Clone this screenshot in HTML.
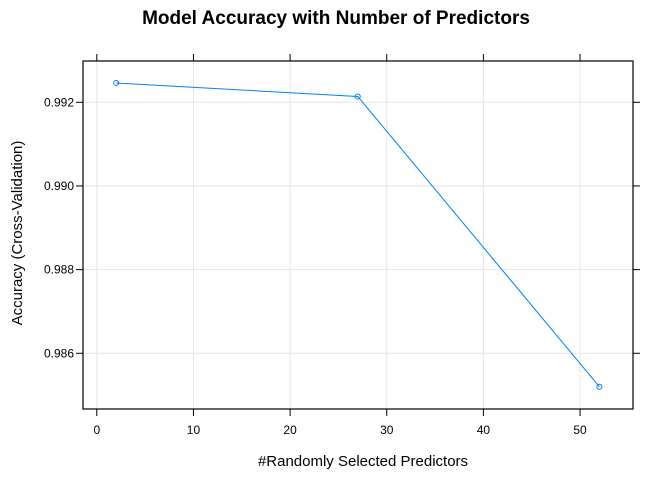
<!DOCTYPE html>
<html><head><meta charset="utf-8"><style>
body{margin:0;background:#fff;}
svg text{font-family:"Liberation Sans",Arial,sans-serif;}
</style></head><body>
<svg id="chart" width="672" height="480" viewBox="0 0 672 480" xmlns="http://www.w3.org/2000/svg">
<rect width="672" height="480" fill="#fff"/>
<text x="336" y="24" text-anchor="middle" font-size="19" font-weight="bold">Model Accuracy with Number of Predictors</text>
<text x="363" y="466" text-anchor="middle" font-size="15">#Randomly Selected Predictors</text>
<text transform="translate(22,233) rotate(-90)" text-anchor="middle" font-size="15">Accuracy (Cross-Validation)</text>
<g id="grid"></g><g id="axes"></g><g id="series"></g>
<rect x="83" y="61" width="550" height="348" fill="none" stroke="#000" stroke-width="1.2"/>
</svg>
<script>
const xValues=[2,27,52];
const yValues=[0.99246,0.99214,0.98520];
const xTicks=[0,10,20,30,40,50];
const yTicks=[0.986,0.988,0.990,0.992];
const yTickLabels=["0.986","0.988","0.990","0.992"];
const NS="http://www.w3.org/2000/svg";
const L=83,R=633,T=61,B=409;
function xs(v){return 96.8+v*9.665;}
function ys(v){return 102.3-(v-0.992)*41830;}
function mk(tag,attrs,parent){const e=document.createElementNS(NS,tag);for(const k in attrs)e.setAttribute(k,attrs[k]);document.getElementById(parent).appendChild(e);return e;}
xTicks.forEach(t=>{const x=xs(t);
 let g=mk('line',{x1:x,x2:x,y1:T,y2:B,stroke:'#e6e6e6','stroke-width':1},'grid');
 
 
 let a=mk('line',{x1:x,x2:x,y1:B,y2:B+7,stroke:'#000'},'axes');
 
 
 let b=mk('line',{x1:x,x2:x,y1:T,y2:T-7,stroke:'#000'},'axes');
 
 
 let tx=mk('text',{x:x,y:B+25,'text-anchor':'middle','font-size':12},'axes');tx.textContent=t;
 
 
});
yTicks.forEach((t,i)=>{const y=ys(t);
 let g=mk('line',{x1:L,x2:R,y1:y,y2:y,stroke:'#e6e6e6','stroke-width':1},'grid');
 
 
 let a=mk('line',{x1:L,x2:L-7,y1:y,y2:y,stroke:'#000'},'axes');
 
 
 let b=mk('line',{x1:R,x2:R+7,y1:y,y2:y,stroke:'#000'},'axes');
 
 
 let tx=mk('text',{x:L-9,y:y+4,'text-anchor':'end','font-size':12},'axes');tx.textContent=yTickLabels[i];
 
 
});
let pts=xValues.map((v,i)=>xs(v)+','+ys(yValues[i])).join(' ');
let pl=mk('polyline',{points:pts,fill:'none',stroke:'#0080ff','stroke-width':1},'series');


xValues.forEach((v,i)=>{
 let c=mk('circle',{cx:xs(v),cy:ys(yValues[i]),r:2.5,fill:'none',stroke:'#0080ff','stroke-width':1},'series');
 
 
});
</script>
</body></html>
